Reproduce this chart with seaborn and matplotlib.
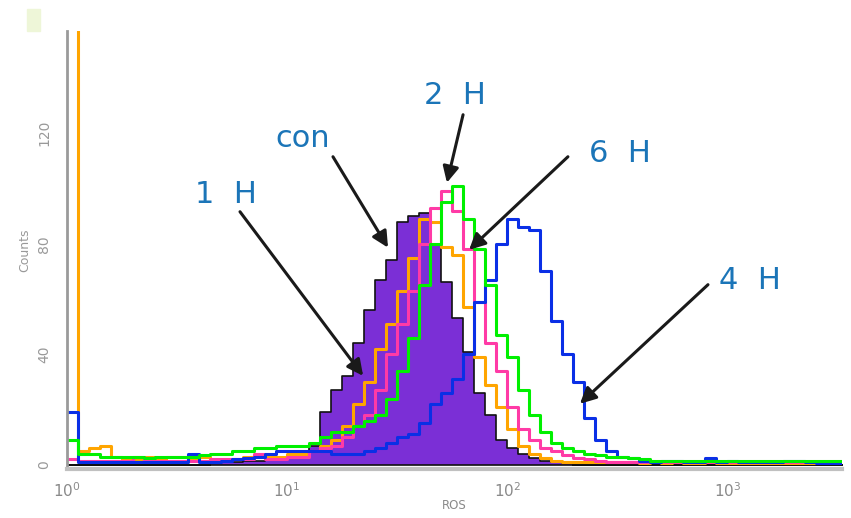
import numpy as np
import matplotlib
matplotlib.use("Agg")
import matplotlib.pyplot as plt
import seaborn as sns
from matplotlib.patches import Rectangle
from matplotlib.ticker import LogLocator, FixedLocator, MultipleLocator, NullFormatter, FuncFormatter

# ---- channel grid: 0.05-decade bins from 10^0 to 10^3.55 (log10 units) ----
BIN_W = 0.05
N_BINS = 71
LOG_RANGE = (0.0, BIN_W * N_BINS)
ros_centers = 10 ** (np.arange(N_BINS) * BIN_W + BIN_W / 2)

# ---- event counts per bin ----
counts_con = [0, 0, 0, 0, 0, 0, 0, 0, 0, 0,
              0, 0, 0, 0.5, 1, 1, 1.5, 1.5, 2, 2,
              2.5, 3, 7, 19, 27, 32, 44, 56, 67, 74,
              88, 90, 91, 80, 66, 53, 41, 26, 18, 9,
              6, 4, 2.5, 1.5, 1, 0.5, 0, 0, 0, 0,
              0, 0, 0, 0, 0, 0, 0, 0, 0, 0,
              0, 0, 0, 0, 0, 0, 0, 0, 0, 0, 0]

counts_1h = [400, 5, 6, 7, 3, 2, 2, 3, 2, 3,
             3, 2, 3, 2, 2, 2, 3, 3, 3, 3,
             4, 4, 5, 7, 9, 14, 22, 30, 42, 51,
             63, 75, 89, 88, 79, 76, 57, 39, 29, 21,
             13, 7, 4, 2.5, 1.5, 1, 1, 1, 1, 1,
             1, 1, 0.5, 1, 0.5, 1, 0.5, 0.5, 1, 0.5,
             0.5, 0.5, 0.5, 0.5, 0.5, 0.5, 0.5, 0.5, 0.5, 0.5, 0.5]

counts_2h = [2, 1.5, 1.5, 1.5, 1.5, 1.5, 3, 1.5, 1.5, 1.5,
             1.5, 1.5, 1.5, 2, 2, 2, 2, 4, 2, 2,
             3, 3, 5, 6, 7, 10, 14, 18, 27, 40,
             51, 63, 80, 93, 99, 92, 78, 59, 44, 34,
             21, 13, 9, 6, 5, 3.5, 2.5, 2, 1.5, 1,
             1, 1, 1, 1, 1, 1, 1, 1, 1, 1,
             1, 1, 1, 1, 1, 1, 1, 1, 1, 1, 1]

counts_6h = [9, 4, 4, 3, 3, 3, 3, 2.5, 3, 3,
             3, 3, 3.5, 4, 4, 5, 5, 6, 6, 7,
             7, 7, 8, 10, 12, 12, 14, 16, 18, 24,
             34, 46, 65, 80, 95, 101, 89, 78, 65, 47,
             39, 27, 18, 12, 8, 6, 5, 4, 3.5, 3,
             3, 2.5, 2, 1.5, 1.5, 1.5, 1.5, 1.5, 1.5, 1.5,
             1.5, 1.5, 1.5, 1.5, 1.5, 1.5, 1.5, 1.5, 1.5, 1.5, 1.5]

counts_4h = [19, 1, 1, 1, 1, 1, 1, 1, 1, 1,
             1, 4, 1, 1, 1.5, 2, 2.5, 3, 4, 5,
             5, 5, 5, 5, 4, 4, 4, 5, 6, 8,
             10, 11, 15, 22, 26, 31, 40, 59, 67, 80,
             89, 86, 85, 70, 52, 40, 30, 17, 9, 5,
             3, 2.5, 1.5, 1, 1.5, 1.5, 1, 1, 2.5, 1,
             1.5, 1, 1, 1, 1, 1.5, 1.5, 1, 0.5, 0.5, 0.5]

# ---- styling ----
sns.set_style("white")
plt.rcParams["font.family"] = ["DejaVu Sans"]

PURPLE = "#7b2fd6"
ORANGE = "#ffa500"
PINK = "#ff3aa6"
GREEN = "#00f000"
BLUE = "#0a2fe6"
LABEL_BLUE = "#1b75b8"
ARROW = "#1a1a1a"
GREY = "#8a8a8a"

fig = plt.figure(figsize=(8.51, 5.18), dpi=100)
ax = fig.add_axes([66.5 / 851, (518 - 469) / 518, (842 - 66.5) / 851, (469 - 31) / 518])

# control sample: filled histogram with a dark outline
sns.histplot(x=ros_centers, weights=np.asarray(counts_con, float), bins=N_BINS,
             binrange=LOG_RANGE, log_scale=True, element="step", fill=True,
             color=PURPLE, alpha=1, edgecolor="#111111", linewidth=1.2, ax=ax)

# treated samples: outline histograms
for counts, color in [(counts_1h, ORANGE), (counts_2h, PINK),
                      (counts_4h, BLUE), (counts_6h, GREEN)]:
    sns.histplot(x=ros_centers, weights=np.asarray(counts, float), bins=N_BINS,
                 binrange=LOG_RANGE, log_scale=True, element="step", fill=False,
                 color=color, linewidth=2.2, ax=ax)

ax.set_xlim(1, 10 ** 3.52)
ax.set_ylim(-1.5, 157)

# ---- axes, ticks ----
for side in ("top", "right"):
    ax.spines[side].set_visible(False)
ax.spines["bottom"].set_color("#c0c0c0")
ax.spines["bottom"].set_linewidth(3)
ax.spines["left"].set_color("#9a9a9a")
ax.spines["left"].set_linewidth(2)

ax.xaxis.set_major_locator(LogLocator(base=10))
ax.xaxis.set_minor_locator(LogLocator(base=10, subs=np.arange(2, 10)))
ax.xaxis.set_major_formatter(FuncFormatter(lambda v, p: r"$10^{%d}$" % round(np.log10(v))))
ax.xaxis.set_minor_formatter(NullFormatter())

ax.yaxis.set_major_locator(FixedLocator([0, 40, 80, 120]))
ax.yaxis.set_minor_locator(MultipleLocator(8))

ax.tick_params(axis="both", which="both", direction="out", color="#555555", width=1.6)
ax.tick_params(axis="x", which="major", length=8, labelsize=11, labelcolor=GREY, pad=1)
ax.tick_params(axis="x", which="minor", length=6)
ax.tick_params(axis="y", which="major", length=12, labelsize=10, labelcolor="#999999",
               labelrotation=90, pad=-1)
ax.tick_params(axis="y", which="minor", length=9)
for lab in ax.get_yticklabels():
    lab.set_verticalalignment("center")

ax.set_xlabel("ROS", fontsize=8.5, color=GREY, labelpad=-1)
ax.set_ylabel("Counts", fontsize=9, color="#999999", labelpad=4)

# ---- time-point labels and arrows ----
arrow_kw = dict(arrowstyle="-|>,head_length=0.8,head_width=0.4", color=ARROW,
                lw=2.2, shrinkA=0, shrinkB=0, mutation_scale=12)
arrows = [
    ((6.13, 91.6), (22.2, 32.2)),     # 1 H
    ((16.2, 111.5), (28.8, 78.6)),    # con
    ((63.1, 126.7), (53.3, 102.1)),   # 2 H
    ((188.8, 111.5), (67.2, 77.8)),   # 6 H
    ((816.0, 65.2), (214.0, 22.1)),   # 4 H
]
for tail, tip in arrows:
    ax.annotate("", xy=tip, xytext=tail, arrowprops=arrow_kw, annotation_clip=False)

labels = [
    ("1  H", 5.31, 94.8),
    ("con", 11.84, 115.1),
    ("2  H", 58.0, 130.7),
    ("6  H", 325.5, 109.7),
    ("4  H", 1266.0, 63.7),
]
for text, x, y in labels:
    ax.text(x, y, text, ha="center", va="baseline", fontsize=22,
            color=LABEL_BLUE, clip_on=False)

# small tint in the top-left corner
fig.patches.append(Rectangle((27 / 851, (518 - 31) / 518), 13 / 851, 22 / 518,
                             transform=fig.transFigure, color="#eef6d8", zorder=0))

fig.savefig("out.png", dpi=100)
